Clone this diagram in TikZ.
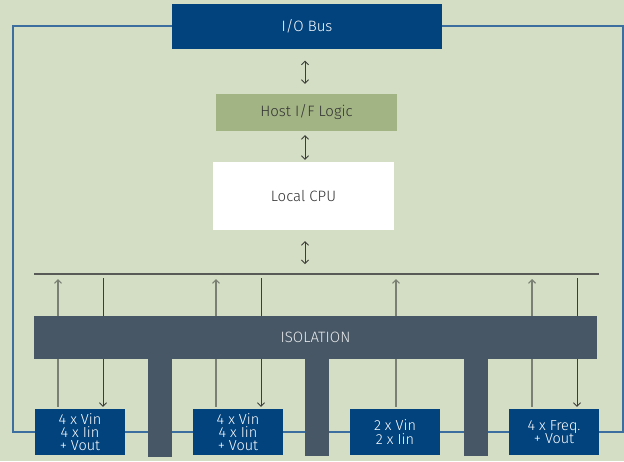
\documentclass[tikz,border=0pt]{standalone}
\usepackage{fontspec}
\setmainfont{Fira Sans}[UprightFont=* Light]
\usetikzlibrary{arrows.meta}
\definecolor{bg}{HTML}{D4DEC5}
\definecolor{navy}{HTML}{02437E}
\definecolor{olive}{HTML}{A2B384}
\definecolor{slate}{HTML}{475765}
\definecolor{frameblue}{HTML}{3C6E9F}
\definecolor{upgray}{HTML}{7A8074}
\definecolor{downgray}{HTML}{3A3D38}
\definecolor{txt}{HTML}{333333}
\tikzset{
  blk/.style={rectangle, inner sep=0pt, font=\fontsize{15}{17}\selectfont},
  navybox/.style={blk, fill=navy, text=white},
  smallbox/.style={navybox, minimum width=90pt, minimum height=46pt, align=center, font=\fontsize{14.5}{13.3}\selectfont},
  tip/.style={-{Straight Barb[length=3.5pt,width=7pt]}},
  dbl/.style={{Straight Barb[length=3.5pt,width=7pt]}-{Straight Barb[length=3.5pt,width=7pt]}, draw=downgray, line width=0.8pt},
  uparrow/.style={tip, draw=upgray, line width=1.1pt},
  downarrow/.style={tip, draw=downgray, line width=0.9pt},
}
\begin{document}
\begin{tikzpicture}[x=1pt,y=-1pt]
\fill[bg] (0,0) rectangle (624,461);
\useasboundingbox (0,0) rectangle (624,461);
% outer frame
\draw[frameblue, line width=1.4pt] (13,26) rectangle (623,432);
% nodes
\node[navybox, minimum width=270pt, minimum height=45pt] (io) at (307,26.5) {I/O Bus};
\node[blk, fill=olive, text=txt, minimum width=181pt, minimum height=37pt] (host) at (306.5,112.5) {Host I/F Logic};
\node[blk, fill=white, text=txt, minimum width=181pt, minimum height=68pt] (cpu) at (303.5,196) {Local CPU};
\coordinate (busL) at (34,274);
\coordinate (busR) at (599,274);
\node[smallbox] (b1) at (80,432) {4 x Vin\\4 x Iin\\+ Vout};
\node[smallbox] (b2) at (238,432) {4 x Vin\\4 x Iin\\+ Vout};
\node[smallbox] (b3) at (395,432) {2 x Vin\\2 x Iin};
\node[smallbox] (b4) at (554,432) {4 x Freq.\\+ Vout};
% double arrows
\draw[dbl] ([xshift=-2pt,yshift=-11.5pt]io.south) -- ([xshift=-1.5pt,yshift=10pt]host.north);
\draw[dbl] ([xshift=-1.5pt,yshift=-4pt]host.south) -- ([xshift=1.5pt,yshift=2pt]cpu.north);
\draw[dbl] ([xshift=1.5pt,yshift=-11pt]cpu.south) -- ([xshift=1.5pt,yshift=10pt]cpu.south |- busL);
% bus
\draw[downgray!85, line width=1.3pt] (busL) -- (busR);
% up arrows
\foreach \b/\dx in {b1/-22, b2/-22, b3/1, b4/-22}{
  \draw[uparrow, shorten >=5pt, shorten <=2pt] ([xshift=\dx pt]\b.north) -- ([xshift=\dx pt]\b.north |- busL);
}
% down arrows
\foreach \b/\dx in {b1/23, b2/23, b4/23}{
  \draw[downarrow, shorten <=4pt, shorten >=2pt] ([xshift=\dx pt]\b.north |- busL) -- ([xshift=\dx pt]\b.north);
}
% isolation
\fill[slate] (148,340) rectangle (172,457);
\fill[slate] (305,340) rectangle (329,456);
\fill[slate] (464,340) rectangle (488,456);
\node[blk, fill=slate, text=white!88!slate, minimum width=563pt, minimum height=43pt] (iso) at (315.5,337.5) {ISOLATION};
\end{tikzpicture}
\end{document}
